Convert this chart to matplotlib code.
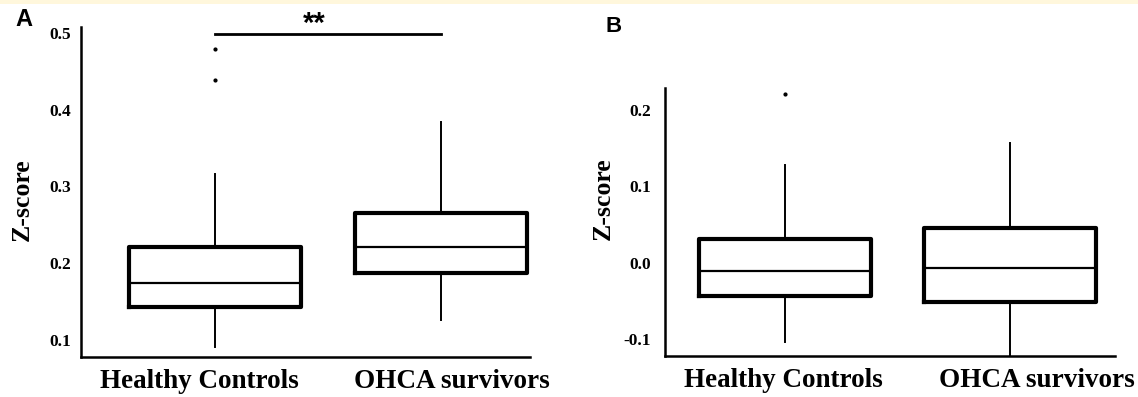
import matplotlib
matplotlib.use("Agg")
import matplotlib.pyplot as plt
from matplotlib.patches import Rectangle
from matplotlib.transforms import ScaledTranslation

# ---------------- data ----------------
groups = ["Healthy Controls", "OHCA survivors"]

a_whislo = [0.091, 0.126]
a_q1 = [0.143, 0.187]
a_med = [0.174, 0.221]
a_q3 = [0.221, 0.265]
a_whishi = [0.316, 0.384]
a_fliers = [[0.439, 0.479], []]
a_yticks = [0.1, 0.2, 0.3, 0.4, 0.5]
a_yticklabels = ["0.1", "0.2", "0.3", "0.4", "0.5"]
a_sig = "**"

b_whislo = [-0.104, -0.125]
b_q1 = [-0.044, -0.052]
b_med = [-0.011, -0.007]
b_q3 = [0.031, 0.045]
b_whishi = [0.128, 0.157]
b_fliers = [[0.221], []]
b_yticks = [-0.1, 0.0, 0.1, 0.2]
b_yticklabels = ["-0.1", "0.0", "0.1", "0.2"]

ylabel = "Z-score"
panel_labels = ["A", "B"]

# ---------------- figure ----------------
W, H = 1138, 397
fig = plt.figure(figsize=(W / 100, H / 100), dpi=100)
fig.patch.set_facecolor("white")
fig.patches.append(Rectangle((0, 1 - 4 / H), 1, 4 / H, transform=fig.transFigure,
                             facecolor="#fff7dc", edgecolor="none", zorder=0))

serif = "Liberation Serif"
sans = "Liberation Sans"


def px_axes(l, t, r, b):
    return [l / W, 1 - b / H, (r - l) / W, (b - t) / H]


def make_stats(lo, q1, med, q3, hi, fl):
    return [dict(whislo=lo[i], q1=q1[i], med=med[i], q3=q3[i], whishi=hi[i],
                 fliers=fl[i]) for i in range(len(lo))]


def draw_panel(ax, stats, yticks, yticklabels, ylim, xlim, width, ypad, label_shift):
    ax.bxp(stats, positions=[0, 1], widths=width, showcaps=False,
           boxprops=dict(color="black", linewidth=3.0),
           whiskerprops=dict(color="black", linewidth=1.4),
           medianprops=dict(color="black", linewidth=1.6),
           flierprops=dict(marker="o", markersize=2.0, markerfacecolor="black",
                           markeredgecolor="black", linestyle="none"),
           manage_ticks=False)
    ax.set_xlim(*xlim)
    ax.set_ylim(*ylim)
    for s in ["top", "right"]:
        ax.spines[s].set_visible(False)
    for s in ["left", "bottom"]:
        ax.spines[s].set_linewidth(1.8)
    ax.set_yticks(yticks)
    ax.set_yticklabels(yticklabels, fontfamily=serif, fontweight="bold", fontsize=12.5)
    ax.tick_params(axis="y", length=0, pad=ypad)
    ax.set_xticks([0, 1])
    ax.set_xticklabels(groups, fontfamily=serif, fontweight="bold", fontsize=19.5)
    ax.tick_params(axis="x", length=0, pad=8.6)
    for lab, dx in zip(ax.get_xticklabels(), label_shift):
        lab.set_transform(lab.get_transform() + ScaledTranslation(dx / 100, 0, fig.dpi_scale_trans))


# Panel A
axA = fig.add_axes(px_axes(81, 27, 530, 357))
draw_panel(axA, make_stats(a_whislo, a_q1, a_med, a_q3, a_whishi, a_fliers),
           a_yticks, a_yticklabels, (0.0778, 0.5078), (-0.593, 1.394), 0.761, 7.2, (-16, 11))
axA.plot([0, 1], [0.4987, 0.4987], color="black", linewidth=2.0, clip_on=False)
axA.text(0.438, 0.5117, a_sig, ha="center", va="center", fontsize=21,
         fontfamily=sans, fontweight="bold", clip_on=False)

# Panel B
axB = fig.add_axes(px_axes(665, 88, 1115, 356))
draw_panel(axB, make_stats(b_whislo, b_q1, b_med, b_q3, b_whishi, b_fliers),
           b_yticks, b_yticklabels, (-0.1225, 0.2287), (-0.533, 1.467), 0.764, 10.0, (-2, 27))

# y labels and panel letters
for x, y in [(22, 200), (603, 199)]:
    fig.text(x / W, 1 - y / H, ylabel, rotation=90, ha="center", va="center",
             fontfamily=serif, fontweight="bold", fontsize=18.5)
for (x, y), t, fs in zip([(24, 20), (614, 26)], panel_labels, [17, 16]):
    fig.text(x / W, 1 - y / H, t, ha="center", va="center",
             fontfamily=sans, fontweight="bold", fontsize=fs)

fig.savefig("out.png", dpi=100, facecolor=fig.get_facecolor())
